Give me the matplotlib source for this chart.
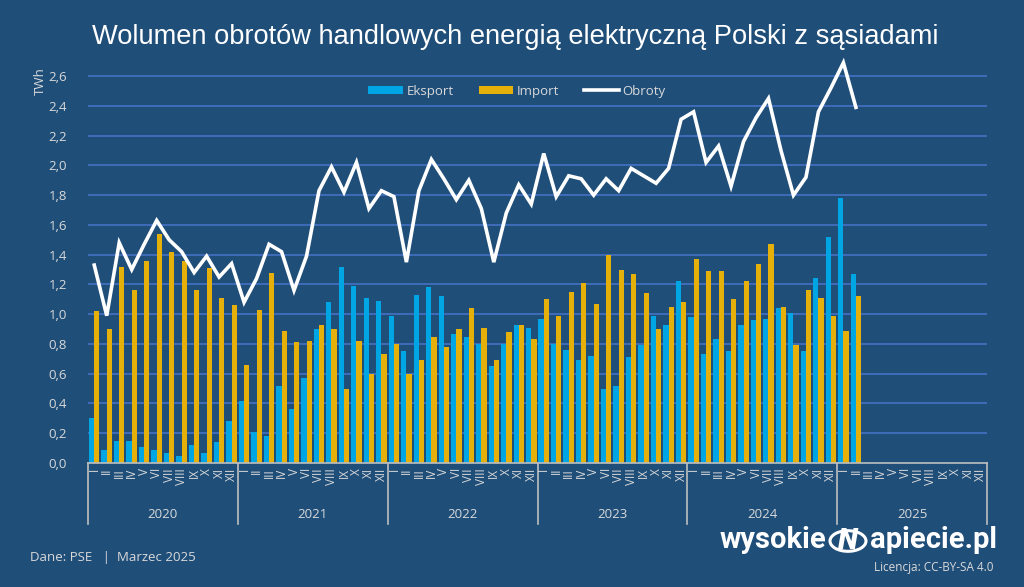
import matplotlib
matplotlib.use("Agg")
import matplotlib.pyplot as plt
from matplotlib.patches import Circle
from matplotlib.lines import Line2D
from matplotlib.patches import Patch
import matplotlib.transforms as mtransforms

# ---------------- data ----------------
years = ["2020", "2021", "2022", "2023", "2024", "2025"]
months = ["I", "II", "III", "IV", "V", "VI", "VII", "VIII", "IX", "X", "XI", "XII"]

eksport = [0.30, 0.09, 0.15, 0.15, 0.11, 0.09, 0.07, 0.05, 0.12, 0.07, 0.14, 0.28,
           0.42, 0.21, 0.18, 0.52, 0.36, 0.57, 0.90, 1.08, 1.32, 1.19, 1.11, 1.09,
           0.99, 0.75, 1.13, 1.18, 1.12, 0.87, 0.85, 0.80, 0.65, 0.80, 0.93, 0.91,
           0.97, 0.80, 0.76, 0.69, 0.72, 0.50, 0.52, 0.71, 0.79, 0.99, 0.93, 1.22,
           0.98, 0.73, 0.83, 0.75, 0.93, 0.96, 0.97, 1.04, 1.01, 0.75, 1.24, 1.52,
           1.78, 1.27]

import_ = [1.02, 0.90, 1.32, 1.16, 1.36, 1.54, 1.42, 1.36, 1.16, 1.31, 1.11, 1.06,
           0.66, 1.03, 1.28, 0.89, 0.81, 0.82, 0.93, 0.90, 0.50, 0.82, 0.60, 0.73,
           0.80, 0.60, 0.69, 0.85, 0.78, 0.90, 1.04, 0.91, 0.69, 0.88, 0.93, 0.83,
           1.10, 0.99, 1.15, 1.21, 1.07, 1.40, 1.30, 1.27, 1.14, 0.90, 1.05, 1.08,
           1.37, 1.29, 1.29, 1.10, 1.22, 1.34, 1.47, 1.05, 0.79, 1.16, 1.11, 0.99,
           0.89, 1.12]

obroty = [1.33, 0.99, 1.48, 1.30, 1.47, 1.63, 1.50, 1.42, 1.28, 1.39, 1.25, 1.34,
          1.08, 1.24, 1.47, 1.42, 1.16, 1.39, 1.83, 1.99, 1.82, 2.02, 1.71, 1.83,
          1.79, 1.35, 1.83, 2.04, 1.91, 1.77, 1.90, 1.71, 1.35, 1.68, 1.87, 1.74,
          2.08, 1.79, 1.93, 1.91, 1.80, 1.91, 1.83, 1.98, 1.93, 1.88, 1.98, 2.31,
          2.36, 2.02, 2.13, 1.86, 2.16, 2.32, 2.45, 2.10, 1.80, 1.92, 2.36, 2.52,
          2.69, 2.39]

yticks = [0.0, 0.2, 0.4, 0.6, 0.8, 1.0, 1.2, 1.4, 1.6, 1.8, 2.0, 2.2, 2.4, 2.6]

# ---------------- style ----------------
BG = "#1F4E79"
C_EXP = "#00A6E4"
C_IMP = "#E6B00A"
GRID = "#4472C4"
TXT = "#D9D9D9"

W, H = 1024, 587
fig = plt.figure(figsize=(W / 100, H / 100), dpi=100, facecolor=BG)

ymax = 2.75
px_per_unit = 148.8
ax_left, ax_right = 88, 987
ax_bottom_px = 463
ax = fig.add_axes([ax_left / W, (H - ax_bottom_px) / H,
                   (ax_right - ax_left) / W, ymax * px_per_unit / H])
ax.set_facecolor(BG)

n_all = len(years) * 12
x = list(range(len(eksport)))
bw = 0.42
ax.bar([i - bw / 2 for i in x], eksport, width=bw, color=C_EXP, zorder=3, label="Eksport")
ax.bar([i + bw / 2 for i in x], import_, width=bw, color=C_IMP, zorder=3, label="Import")
ax.plot(x, obroty, color="white", lw=2.6, zorder=4, label="Obroty",
        solid_joinstyle="miter")

ax.set_xlim(-0.5, n_all - 0.5)
ax.set_ylim(0, ymax)
for yv in yticks[1:]:
    ax.axhline(yv, color=GRID, lw=1.2, zorder=1)

ax.set_yticks(yticks)
ax.set_yticklabels([f"{v:.1f}".replace(".", ",") for v in yticks],
                   fontfamily="Open Sans", fontsize=9.5, color=TXT)
ax.tick_params(axis="y", length=0, pad=15)
ax.set_xticks([])
for s in ["top", "right", "left"]:
    ax.spines[s].set_visible(False)
ax.spines["bottom"].set_color("#BFBFBF")
ax.spines["bottom"].set_linewidth(1.2)
ax.spines["bottom"].set_zorder(5)

fig.text(40 / W, 1 - 81 / H, "TWh", rotation=90, ha="center", va="center",
         fontfamily="Open Sans", fontsize=9.5, color=TXT)

# month labels & year labels
trans = mtransforms.blended_transform_factory(ax.transData, fig.transFigure)
for yi, yr in enumerate(years):
    for mi, m in enumerate(months):
        ax.text(yi * 12 + mi, 1 - 468 / H, m, rotation=90, ha="center", va="top",
                fontfamily="Open Sans", fontsize=8.5, color=TXT, transform=trans)
    ax.text(yi * 12 + 5.5, 1 - 514 / H, yr, ha="center", va="center",
            fontfamily="Open Sans", fontsize=9.5, color=TXT, transform=trans)
for b in range(len(years) + 1):
    xb = b * 12 - 0.5
    ax.add_line(Line2D([xb, xb], [1 - 463 / H, 1 - 524 / H], transform=trans,
                       color="#BFBFBF", lw=1.2, clip_on=False))

# legend
handles = [Patch(facecolor=C_EXP), Patch(facecolor=C_IMP),
           Line2D([0], [0], color="white", lw=2.6)]
leg = fig.legend(handles, ["Eksport", "Import", "Obroty"], ncol=3, frameon=False,
                 loc="center", bbox_to_anchor=(517 / W, 1 - 91 / H),
                 prop={"family": "Open Sans", "size": 9.5}, labelcolor=TXT,
                 handlelength=2.6, handleheight=0.6, columnspacing=1.9,
                 handletextpad=0.3)

# title
fig.text(515 / W, 1 - 37 / H,
         "Wolumen obrotów handlowych energią elektryczną Polski z sąsiadami",
         ha="center", va="center", fontfamily="Liberation Sans", fontsize=19.6,
         color="white")

# footer
fig.text(30 / W, 1 - 557 / H, "Dane: PSE   |  Marzec 2025", ha="left", va="center",
         fontfamily="Open Sans", fontsize=9.5, color=TXT)

# logo
fig.text(826 / W, 1 - 540 / H, "wysokie", ha="right", va="center",
         fontfamily="Roboto", fontweight="bold", fontsize=21, color="white")
fig.text(870 / W, 1 - 540 / H, "apiecie.pl", ha="left", va="center",
         fontfamily="Roboto", fontweight="bold", fontsize=21, color="white")
circ = Circle((848 / W, 1 - 541 / H), 18 / W, transform=fig.transFigure,
              fill=False, edgecolor="white", lw=2.2)
fig.add_artist(circ)
fig.text(848 / W, 1 - 541 / H, "N", ha="center", va="center", fontstyle="italic",
         fontfamily="Roboto", fontweight="black", fontsize=21, color="white")
fig.text(993 / W, 1 - 567 / H, "Licencja: CC-BY-SA 4.0", ha="right", va="center",
         fontfamily="Open Sans", fontsize=8.5, color=TXT)

fig.savefig("out.png", dpi=100, facecolor=BG)
